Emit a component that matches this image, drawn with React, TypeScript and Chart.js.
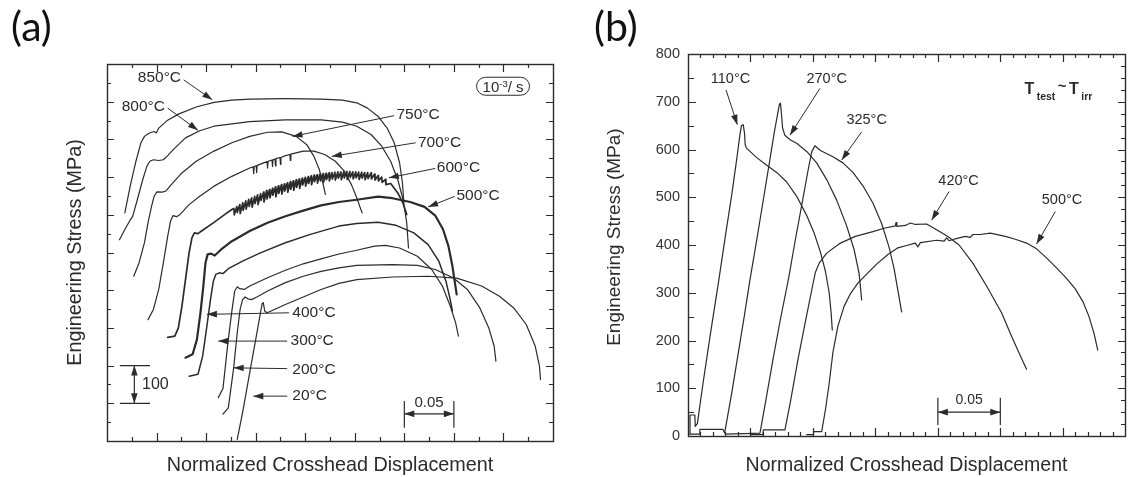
import React, { useEffect, useRef } from "react";
import { Chart, registerables } from "chart.js";

Chart.register(...registerables);

const FONT = '"Liberation Sans", Arial, Helvetica, sans-serif';
const INK = "#2b2b2b";

// ================= Panel (a) : curves offset vertically (arbitrary origin) =================
const aNames = ["850°C", "800°C", "750°C", "700°C", "600°C", "500°C", "400°C", "300°C", "200°C", "20°C"];

const a850 = [[0.018,605],[0.0234,676],[0.0288,738],[0.0342,791],[0.0378,808],[0.0414,815],[0.045,819],[0.0475,821],[0.0497,817],[0.0522,830],[0.0612,851],[0.072,867],[0.09,886],[0.108,898],[0.126,904],[0.144,907],[0.18,908],[0.216,907],[0.2376,904],[0.252,897],[0.2628,883],[0.2736,861],[0.2826,830],[0.2898,791],[0.2952,738],[0.2981,685],[0.2995,632]];
const a800 = [[0.0126,534],[0.018,561],[0.0234,586],[0.0259,596],[0.0306,640],[0.036,693],[0.0403,729],[0.0432,742],[0.0468,746],[0.0522,744],[0.0569,746],[0.0612,757],[0.0684,777],[0.0792,804],[0.0936,823],[0.108,835],[0.144,847],[0.18,852],[0.216,852],[0.2376,846],[0.252,835],[0.2664,813],[0.2772,782],[0.2862,742],[0.2934,693],[0.2988,640],[0.3024,579],[0.3042,512]];
const a750 = [[0.027,437],[0.0324,473],[0.0378,526],[0.0414,579],[0.045,623],[0.0475,649],[0.0504,661],[0.0558,660],[0.0594,663],[0.0648,680],[0.0756,711],[0.09,742],[0.108,769],[0.126,791],[0.144,808],[0.162,819],[0.1764,820],[0.1908,808],[0.2016,786],[0.2088,755],[0.2142,720],[0.2178,685],[0.2203,654]];
const a700 = [[0.0414,322],[0.0468,349],[0.0522,402],[0.0569,473],[0.0612,543],[0.0641,583],[0.0666,598],[0.0702,595],[0.0738,601],[0.0828,627],[0.0936,649],[0.108,676],[0.126,702],[0.144,724],[0.1475,727],[0.148,709],[0.1485,728],[0.1505,730],[0.151,712],[0.1515,731],[0.1615,741],[0.162,724],[0.1625,742],[0.1665,745],[0.167,728],[0.1675,746],[0.1695,748],[0.17,730],[0.1705,749],[0.1745,752],[0.175,734],[0.1755,752],[0.18,757],[0.1845,760],[0.185,744],[0.1855,761],[0.198,769],[0.2088,769],[0.2196,760],[0.2304,742],[0.2394,716],[0.2466,680],[0.252,645],[0.2556,618],[0.2574,605]];
const a600 = [[0.0612,275],[0.0684,278],[0.072,300],[0.0756,358],[0.0792,428],[0.0828,499],[0.0857,539],[0.0882,552],[0.0918,550],[0.0954,557],[0.108,580],[0.12,603],[0.126,614],
  [0.128,617],[0.1284,600],[0.131,622],[0.1314,606],[0.134,627],[0.1344,603],[0.137,632],[0.1374,612],[0.14,637],[0.1404,615],[0.143,641],[0.1434,622],[0.146,645],[0.1464,620],[0.149,649],[0.1494,630],
  [0.152,653],[0.1524,627],[0.155,656],[0.1554,638],[0.158,660],[0.1584,634],[0.161,664],[0.1614,642],[0.164,667],[0.1644,645],[0.167,670],[0.1674,652],[0.17,674],[0.1704,648],[0.173,677],[0.1734,657],
  [0.176,680],[0.1764,655],[0.179,682],[0.1794,663],[0.182,685],[0.1824,660],[0.185,688],[0.1854,668],[0.188,690],[0.1884,665],[0.191,693],[0.1914,673],[0.194,695],[0.1944,670],[0.197,697],[0.1974,679],
  [0.2,699],[0.2004,676],[0.203,701],[0.2034,683],[0.206,703],[0.2064,680],[0.209,705],[0.2094,688],[0.212,706],[0.2124,684],[0.215,708],[0.2154,690],[0.218,709],[0.2184,686],[0.221,710],[0.2214,693],
  [0.224,711],[0.2244,690],[0.227,712],[0.2274,695],[0.23,713],[0.2304,692],[0.233,714],[0.2334,697],[0.236,714],[0.2364,693],[0.239,715],[0.2394,698],[0.242,715],[0.2424,694],[0.245,715],[0.2454,699],
  [0.248,714],[0.2484,695],[0.251,714],[0.2514,698],[0.254,713],[0.2544,694],[0.257,713],[0.2574,697],[0.26,712],[0.2604,693],[0.263,712],[0.2634,696],[0.2664,711],[0.2668,695],[0.27,708],[0.2704,692],
  [0.2735,704],[0.2739,690],[0.2772,700],[0.2776,686],[0.281,694],[0.2814,680],[0.2862,683],[0.2934,658],[0.2988,630],[0.3024,601]];
const a500 = [[0.0792,221],[0.0864,230],[0.0907,269],[0.0943,340],[0.0972,411],[0.0994,473],[0.1015,495],[0.1051,497],[0.1087,492],[0.1152,508],[0.126,530],[0.144,557],[0.162,579],[0.18,596],[0.198,611],[0.216,625],[0.234,634],[0.252,640],[0.2736,648],[0.288,644],[0.306,634],[0.3204,621],[0.3312,598],[0.3391,561],[0.3445,517],[0.3485,464],[0.351,420],[0.3528,389]];
const a400 = [[0.0828,172],[0.0918,177],[0.0965,225],[0.1008,305],[0.1044,375],[0.1073,424],[0.1098,442],[0.1134,446],[0.117,444],[0.1224,457],[0.1368,477],[0.1548,499],[0.18,526],[0.2052,548],[0.234,570],[0.252,577],[0.2736,580],[0.2916,572],[0.3096,552],[0.324,521],[0.3348,477],[0.342,424],[0.3463,375],[0.3485,345]];
const a300 = [[0.1123,115],[0.117,139],[0.122,261],[0.126,345],[0.1289,398],[0.1314,409],[0.1339,404],[0.1386,402],[0.144,411],[0.162,433],[0.18,453],[0.198,470],[0.216,483],[0.234,496],[0.252,506],[0.27,517],[0.2808,519],[0.2952,512],[0.3132,490],[0.3276,455],[0.3384,411],[0.3463,358],[0.3517,314],[0.3546,278]];
const a200 = [[0.117,71],[0.1224,88],[0.1278,194],[0.1314,287],[0.1343,349],[0.1368,375],[0.1393,382],[0.1422,377],[0.1458,375],[0.1512,382],[0.162,398],[0.18,420],[0.198,437],[0.216,450],[0.234,459],[0.252,466],[0.288,468],[0.3132,466],[0.3312,455],[0.3492,433],[0.3636,402],[0.3762,353],[0.3852,300],[0.3906,252],[0.3924,212]];
const a20 = [[0.1314,4],[0.1368,75],[0.1422,155],[0.1476,234],[0.1519,296],[0.1548,340],[0.1566,365],[0.1577,367],[0.1591,345],[0.1613,340],[0.1656,345],[0.18,362],[0.198,382],[0.216,402],[0.234,418],[0.252,428],[0.288,435],[0.324,437],[0.3528,432],[0.378,411],[0.396,384],[0.4104,353],[0.423,309],[0.432,252],[0.4363,199],[0.4374,163]];

const aCurves = [a850, a800, a750, a700, a600, a500, a400, a300, a200, a20];
const aWidths = [1.2, 1.2, 1.2, 1.2, 1.7, 2.2, 1.5, 1.2, 1.2, 1.2];

const aLabelPos = [[0.0529,963],[0.0367,888],[0.3139,866],[0.3355,792],[0.3546,724],[0.3744,651],[0.2088,340],[0.207,265],[0.2088,190],[0.2045,119]];
const aArrowFrom = [[0.0774,958],[0.0612,883],[0.2898,863],[0.3114,791],[0.3312,723],[0.351,649],[0.1836,340],[0.1818,265],[0.1818,192],[0.1818,119]];
const aArrowTo = [[0.1062,905],[0.0918,824],[0.1872,808],[0.2268,755],[0.2844,698],[0.324,621],[0.1008,336],[0.1123,265],[0.1278,194],[0.1476,119]];

// ================= Panel (b) : T_test ~ T_irr =================
const bNames = ["110°C", "270°C", "325°C", "420°C", "500°C"];
const b110 = [[0.0015,3],[0.0016,44],[0.0055,44],[0.0058,20],[0.0075,26],[0.012,110],[0.018,215],[0.0243,320],[0.03,420],[0.035,505],[0.039,580],[0.0415,630],[0.0428,650],[0.0442,652],[0.0452,635],[0.0458,610],[0.0468,603],[0.055,583],[0.063,567],[0.071,552],[0.079,532],[0.087,502],[0.095,462],[0.101,425],[0.106,385],[0.11,345],[0.113,300],[0.1145,260],[0.1155,222]];
const b270 = [[0.002,4],[0.009,4],[0.0095,14],[0.028,14],[0.0293,6],[0.035,90],[0.04,170],[0.045,250],[0.0496,327],[0.055,410],[0.06,490],[0.065,570],[0.069,635],[0.0718,675],[0.0732,695],[0.074,697],[0.0748,675],[0.0757,645],[0.0775,630],[0.082,620],[0.087,613],[0.095,596],[0.103,572],[0.111,537],[0.119,494],[0.127,440],[0.133,390],[0.137,340],[0.139,285]];
const b325 = [[0.03,4],[0.045,5],[0.0576,6],[0.062,70],[0.068,160],[0.074,245],[0.0803,327],[0.086,412],[0.092,497],[0.096,555],[0.099,595],[0.1016,608],[0.106,598],[0.116,585],[0.124,572],[0.132,552],[0.14,524],[0.148,488],[0.155,445],[0.161,395],[0.165,350],[0.168,305],[0.171,260]];
const b420 = [[0.05,3],[0.06,3],[0.0603,13],[0.0776,13],[0.082,72],[0.088,160],[0.094,240],[0.1003,322],[0.102,343],[0.105,362],[0.111,383],[0.122,404],[0.134,418],[0.148,428],[0.157,435],[0.166,440],[0.1665,447],[0.1672,439],[0.174,441],[0.178,446],[0.182,443],[0.191,444],[0.199,432],[0.208,418],[0.217,400],[0.228,362],[0.239,314],[0.251,258],[0.259,209],[0.265,174],[0.271,140]];
const b500 = [[0.095,3],[0.1003,3],[0.1005,9],[0.107,9],[0.11,55],[0.113,110],[0.116,175],[0.12,230],[0.125,272],[0.13,298],[0.136,320],[0.143,339],[0.151,360],[0.16,380],[0.168,394],[0.175,399],[0.182,404],[0.184,396],[0.186,405],[0.199,410],[0.205,408],[0.207,415],[0.209,409],[0.214,413],[0.222,418],[0.226,416],[0.228,422],[0.234,422],[0.242,425],[0.254,418],[0.262,412],[0.271,404],[0.279,392],[0.287,373],[0.295,352],[0.303,330],[0.31,308],[0.316,282],[0.321,250],[0.325,215],[0.328,180]];
const bCurves = [b110, b270, b325, b420, b500];

const bLabelPos = [[0.034,747],[0.111,747],[0.143,662],[0.2166,533],[0.2994,495]];
const bArrowFrom = [[0.0304,725],[0.1056,728],[0.139,637],[0.209,512],[0.294,470]];
const bArrowTo = [[0.0395,652],[0.0816,630],[0.123,578],[0.195,452],[0.279,402]];
const bYTicks = [0, 100, 200, 300, 400, 500, 600, 700, 800];

// ================= helpers =================
function arrowHead(ctx: CanvasRenderingContext2D, x1: number, y1: number, x2: number, y2: number, len = 10, half = 3.3) {
  const a = Math.atan2(y2 - y1, x2 - x1);
  const bx = x2 - len * Math.cos(a), by = y2 - len * Math.sin(a);
  ctx.beginPath();
  ctx.moveTo(x2, y2);
  ctx.lineTo(bx + half * Math.sin(a), by - half * Math.cos(a));
  ctx.lineTo(bx - half * Math.sin(a), by + half * Math.cos(a));
  ctx.closePath();
  ctx.fill();
}
function arrow(ctx: CanvasRenderingContext2D, x1: number, y1: number, x2: number, y2: number, both = false) {
  ctx.beginPath();
  ctx.moveTo(x1, y1);
  ctx.lineTo(x2, y2);
  ctx.stroke();
  arrowHead(ctx, x1, y1, x2, y2);
  if (both) arrowHead(ctx, x2, y2, x1, y1);
}

type FrameOpt = { xStep: number; xMajor: number; yStep: number; yMajor: number; xLen: number[]; yLen: number[]; rStep: number; rLen: number[] };

function framePlugin(o: FrameOpt) {
  return {
    id: "frame",
    afterDatasetsDraw(chart: any) {
      const { ctx, chartArea: ca, scales } = chart;
      const xs = scales.x, ys = scales.y;
      const isMajor = (v: number, m: number) => Math.abs(v / m - Math.round(v / m)) < 1e-6;
      ctx.save();
      ctx.strokeStyle = INK;
      ctx.lineWidth = 1.2;
      ctx.beginPath();
      for (let i = 1; i * o.xStep < xs.max - 1e-9; i++) {
        const v = i * o.xStep;
        const px = Math.round(xs.getPixelForValue(v)) + 0.5;
        const L = isMajor(v, o.xMajor) ? o.xLen[0] : o.xLen[1];
        ctx.moveTo(px, ca.bottom); ctx.lineTo(px, ca.bottom - L);
        ctx.moveTo(px, ca.top); ctx.lineTo(px, ca.top + L);
      }
      for (let i = 1; i * o.yStep < ys.max - 1e-9; i++) {
        const v = i * o.yStep;
        const py = Math.round(ys.getPixelForValue(v)) + 0.5;
        const L = isMajor(v, o.yMajor) ? o.yLen[0] : o.yLen[1];
        ctx.moveTo(ca.left, py); ctx.lineTo(ca.left + L, py);
      }
      for (let i = 1; i * o.rStep < ys.max - 1e-9; i++) {
        const v = i * o.rStep;
        const py = Math.round(ys.getPixelForValue(v)) + 0.5;
        const L = isMajor(v, o.yMajor) ? o.rLen[0] : o.rLen[1];
        ctx.moveTo(ca.right, py); ctx.lineTo(ca.right - L, py);
      }
      ctx.stroke();
      ctx.lineWidth = 1.4;
      ctx.strokeRect(Math.round(ca.left) + 0.5, Math.round(ca.top) + 0.5, Math.round(ca.width), Math.round(ca.height));
      ctx.restore();
    },
  };
}

function notesPluginA() {
  return {
    id: "notesA",
    afterDraw(chart: any) {
      const { ctx, scales } = chart;
      const X = (v: number) => scales.x.getPixelForValue(v);
      const Y = (v: number) => scales.y.getPixelForValue(v);
      ctx.save();
      ctx.fillStyle = INK;
      ctx.strokeStyle = INK;
      ctx.lineWidth = 1;
      ctx.font = `15.5px ${FONT}`;
      ctx.textAlign = "center";
      ctx.textBaseline = "middle";
      aNames.forEach((t, i) => {
        ctx.fillText(t, X(aLabelPos[i][0]), Y(aLabelPos[i][1]));
        arrow(ctx, X(aArrowFrom[i][0]), Y(aArrowFrom[i][1]), X(aArrowTo[i][0]), Y(aArrowTo[i][1]));
      });
      // 100 MPa scale bar
      ctx.lineWidth = 1.2;
      ctx.beginPath();
      ctx.moveTo(X(0.013), Y(200)); ctx.lineTo(X(0.0434), Y(200));
      ctx.moveTo(X(0.013), Y(100)); ctx.lineTo(X(0.0434), Y(100));
      ctx.stroke();
      arrow(ctx, X(0.0276), Y(200), X(0.0276), Y(100), true);
      ctx.textAlign = "left";
      ctx.font = `16px ${FONT}`;
      ctx.fillText("100", X(0.0353), Y(150));
      // 0.05 scale bar
      ctx.beginPath();
      ctx.moveTo(X(0.3), Y(106)); ctx.lineTo(X(0.3), Y(35));
      ctx.moveTo(X(0.35), Y(106)); ctx.lineTo(X(0.35), Y(35));
      ctx.stroke();
      arrow(ctx, X(0.3), Y(72), X(0.35), Y(72), true);
      ctx.textAlign = "center";
      ctx.font = `15px ${FONT}`;
      ctx.fillText("0.05", X(0.325), Y(102));
      // strain-rate box
      const cx = X(0.3996), cy = Y(941);
      const parts = [
        { t: "10", f: `15px ${FONT}`, dy: 0 },
        { t: "-3", f: `9.5px ${FONT}`, dy: -5 },
        { t: "/ s", f: `15px ${FONT}`, dy: 0 },
      ];
      let w = 0;
      const ws = parts.map((p) => { ctx.font = p.f; const m = ctx.measureText(p.t).width; w += m; return m; });
      let x0 = cx - w / 2;
      ctx.textAlign = "left";
      ctx.textBaseline = "alphabetic";
      parts.forEach((p, i) => { ctx.font = p.f; ctx.fillText(p.t, x0, cy + 5.5 + p.dy); x0 += ws[i]; });
      const bw = w + 12, bh = 18, r = 9;
      ctx.lineWidth = 1;
      ctx.beginPath();
      ctx.roundRect(cx - bw / 2, cy - bh / 2, bw, bh, r);
      ctx.stroke();
      ctx.restore();
    },
  };
}

function notesPluginB() {
  return {
    id: "notesB",
    afterDraw(chart: any) {
      const { ctx, scales } = chart;
      const X = (v: number) => scales.x.getPixelForValue(v);
      const Y = (v: number) => scales.y.getPixelForValue(v);
      ctx.save();
      ctx.fillStyle = INK;
      ctx.strokeStyle = INK;
      ctx.lineWidth = 1;
      ctx.font = `14.5px ${FONT}`;
      ctx.textAlign = "center";
      ctx.textBaseline = "middle";
      bNames.forEach((t, i) => {
        ctx.fillText(t, X(bLabelPos[i][0]), Y(bLabelPos[i][1]));
        arrow(ctx, X(bArrowFrom[i][0]), Y(bArrowFrom[i][1]), X(bArrowTo[i][0]), Y(bArrowTo[i][1]));
      });
      // 0.05 scale bar
      ctx.lineWidth = 1.2;
      ctx.beginPath();
      ctx.moveTo(X(0.2), Y(80)); ctx.lineTo(X(0.2), Y(23));
      ctx.moveTo(X(0.25), Y(80)); ctx.lineTo(X(0.25), Y(23));
      ctx.stroke();
      arrow(ctx, X(0.2), Y(50), X(0.25), Y(50), true);
      ctx.font = `14px ${FONT}`;
      ctx.fillText("0.05", X(0.225), Y(76));
      // T_test ~ T_irr
      const parts = [
        { t: "T", f: `bold 16px ${FONT}`, dy: 0 },
        { t: "test", f: `bold 10.5px ${FONT}`, dy: 6 },
        { t: "~", f: `bold 15px ${FONT}`, dy: -3 },
        { t: "T", f: `bold 16px ${FONT}`, dy: 0 },
        { t: "irr", f: `bold 10.5px ${FONT}`, dy: 6 },
      ];
      const gap = 2.5;
      let w = 0;
      const ws = parts.map((p) => { ctx.font = p.f; const m = ctx.measureText(p.t).width; w += m + gap; return m; });
      w -= gap;
      const cx = X(0.2965), cy = Y(728);
      let x0 = cx - w / 2;
      ctx.textAlign = "left";
      ctx.textBaseline = "alphabetic";
      parts.forEach((p, i) => { ctx.font = p.f; ctx.fillText(p.t, x0, cy + 6 + p.dy); x0 += ws[i] + gap; });
      ctx.restore();
    },
  };
}

function lineSets(curves: number[][][], widths: number[]) {
  return curves.map((c, i) => ({
    data: c.map(([x, y]) => ({ x, y })),
    showLine: true,
    borderColor: INK,
    borderWidth: widths[i],
    pointRadius: 0,
    fill: false,
    tension: 0,
    borderJoinStyle: "round",
    borderCapStyle: "round",
  }));
}

function makeA(): any {
  return {
    type: "scatter",
    data: { datasets: lineSets(aCurves, aWidths) },
    options: {
      responsive: false,
      animation: false,
      devicePixelRatio: 1,
      events: [],
      layout: { padding: { top: 64, right: 14, bottom: 0, left: 0 } },
      plugins: { legend: { display: false }, tooltip: { enabled: false } },
      scales: {
        x: {
          type: "linear", min: 0, max: 0.45,
          ticks: { display: false, stepSize: 0.025 },
          grid: { display: false, drawTicks: false },
          border: { display: false },
          title: { display: true, text: "Normalized Crosshead Displacement", color: INK, font: { family: FONT, size: 19.8 }, padding: { top: 0, bottom: 0 } },
          afterFit: (s: any) => { s.height = 36; },
        },
        y: {
          type: "linear", min: 0, max: 1000,
          ticks: { display: false, stepSize: 50 },
          grid: { display: false, drawTicks: false },
          border: { display: false },
          title: { display: true, text: "Engineering Stress (MPa)", color: INK, font: { family: FONT, size: 19.8 }, padding: { top: 64, bottom: 0 } },
          afterFit: (s: any) => { s.width = 107; },
        },
      },
    },
    plugins: [
      framePlugin({ xStep: 0.025, xMajor: 0.05, yStep: 50, yMajor: 100, xLen: [8, 4], yLen: [7, 4], rStep: 50, rLen: [7, 4] }),
      notesPluginA(),
    ],
  };
}

function makeB(): any {
  return {
    type: "scatter",
    data: { datasets: lineSets(bCurves, [1.2, 1.2, 1.2, 1.2, 1.2]) },
    options: {
      responsive: false,
      animation: false,
      devicePixelRatio: 1,
      events: [],
      layout: { padding: { top: 54, right: 9, bottom: 0, left: 0 } },
      plugins: { legend: { display: false }, tooltip: { enabled: false } },
      scales: {
        x: {
          type: "linear", min: 0, max: 0.3498,
          ticks: { display: false, stepSize: 0.01 },
          grid: { display: false, drawTicks: false },
          border: { display: false },
          title: { display: true, text: "Normalized Crosshead Displacement", color: INK, font: { family: FONT, size: 19.5 }, padding: { top: 0, bottom: 0 } },
          afterFit: (s: any) => { s.height = 41; },
        },
        y: {
          type: "linear", min: bYTicks[0], max: bYTicks[bYTicks.length - 1],
          afterBuildTicks: (s: any) => { s.ticks = bYTicks.map((v) => ({ value: v })); },
          ticks: { display: true, color: "#333", padding: 8, font: { family: FONT, size: 14.5 } },
          grid: { display: false, drawTicks: false },
          border: { display: false },
          title: { display: true, text: "   Engineering Stress (MPa)", color: INK, font: { family: FONT, size: 19 }, padding: { top: 36, bottom: 0 } },
          afterFit: (s: any) => { s.width = 121; },
        },
      },
    },
    plugins: [
      framePlugin({ xStep: 0.01, xMajor: 0.05, yStep: 50, yMajor: 100, xLen: [8, 4], yLen: [8, 6], rStep: 25, rLen: [7, 4] }),
      notesPluginB(),
    ],
  };
}

function ChartCanvas({ make, left }: { make: () => any; left: number }) {
  const ref = useRef<HTMLCanvasElement>(null);
  useEffect(() => {
    const chart = new Chart(ref.current as HTMLCanvasElement, make());
    return () => chart.destroy();
  }, []);
  return (
    <canvas
      ref={ref}
      width={567}
      height={477}
      style={{ position: "absolute", left, top: 0, width: 567, height: 477 }}
    />
  );
}

const panelLabel: React.CSSProperties = {
  position: "absolute",
  top: 2,
  fontFamily: 'Lato, "Open Sans", sans-serif',
  fontSize: 41,
  lineHeight: "48px",
  color: "#111",
};

export default function App() {
  return (
    <div style={{ position: "absolute", left: 0, top: 0, width: 1134, height: 477, background: "#fff", overflow: "hidden" }}>
      <ChartCanvas make={makeA} left={0} />
      <ChartCanvas make={makeB} left={567} />
      <div style={{ ...panelLabel, left: 11 }}>(a)</div>
      <div style={{ ...panelLabel, left: 594 }}>(b)</div>
    </div>
  );
}
